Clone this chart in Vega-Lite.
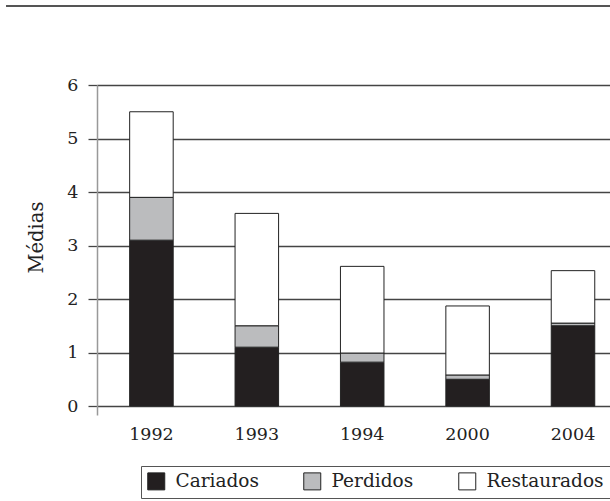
{
  "$schema": "https://vega.github.io/schema/vega-lite/v6.json",
  "background": "white",
  "padding": 5,
  "config": {
    "view": {"stroke": null},
    "font": "DejaVu Serif"
  },
  "spacing": 69,
  "vconcat": [
    {
      "width": 514,
      "height": 2,
      "data": {"values": [{"a": 0}]},
      "mark": {"type": "rule", "color": "#555555", "strokeWidth": 2},
      "encoding": {
        "x": {"datum": -0.177, "type": "quantitative", "scale": {"domain": [0, 1]}, "axis": null},
        "x2": {"datum": 1},
        "y": {"datum": 0.5, "type": "quantitative", "scale": {"domain": [0, 1]}, "axis": null}
      }
    },
    {
      "width": 514,
      "height": 330,
      "data": {
        "values": [
          {"ano": "1992", "serie": "Cariados", "media": 3.1},
          {"ano": "1992", "serie": "Perdidos", "media": 0.8},
          {"ano": "1992", "serie": "Restaurados", "media": 1.6},
          {"ano": "1993", "serie": "Cariados", "media": 1.1},
          {"ano": "1993", "serie": "Perdidos", "media": 0.4},
          {"ano": "1993", "serie": "Restaurados", "media": 2.1},
          {"ano": "1994", "serie": "Cariados", "media": 0.82},
          {"ano": "1994", "serie": "Perdidos", "media": 0.17},
          {"ano": "1994", "serie": "Restaurados", "media": 1.62},
          {"ano": "2000", "serie": "Cariados", "media": 0.5},
          {"ano": "2000", "serie": "Perdidos", "media": 0.08},
          {"ano": "2000", "serie": "Restaurados", "media": 1.29},
          {"ano": "2004", "serie": "Cariados", "media": 1.5},
          {"ano": "2004", "serie": "Perdidos", "media": 0.05},
          {"ano": "2004", "serie": "Restaurados", "media": 0.98}
        ]
      },
      "mark": {"type": "bar", "stroke": "#222222", "strokeWidth": 1},
      "encoding": {
        "x": {
          "field": "ano", "type": "nominal",
          "scale": {"paddingInner": 0.587, "paddingOuter": 0.232, "align": 0.668},
          "axis": {
            "title": null, "labelAngle": 0, "domain": false, "ticks": false,
            "labelPadding": 10, "labelFont": "DejaVu Serif", "labelFontSize": 17.5,
            "labelColor": "#222222"
          }
        },
        "y": {
          "field": "media", "type": "quantitative", "stack": "zero",
          "scale": {"domain": [-0.168, 6], "nice": false, "zero": false},
          "axis": {
            "title": "Médias", "values": [0, 1, 2, 3, 4, 5, 6],
            "titleFont": "DejaVu Serif", "titleFontSize": 19.5, "titleFontWeight": "normal",
            "titleColor": "#222222", "titlePadding": 20, "titleY": 152,
            "labelFont": "DejaVu Serif", "labelFontSize": 17.5, "labelColor": "#222222",
            "labelPadding": 10,
            "domainColor": "#999999", "domainWidth": 1.5,
            "tickColor": "#444444", "tickWidth": 1.3, "tickSize": 9,
            "grid": true, "gridColor": "#444444", "gridWidth": 1.3, "gridOpacity": 1
          }
        },
        "color": {
          "field": "serie", "type": "nominal",
          "scale": {"domain": ["Cariados", "Perdidos", "Restaurados"], "range": ["#231f20", "#bbbcbe", "#ffffff"]},
          "legend": {
            "title": null, "orient": "none", "legendX": 44, "legendY": 461, "direction": "horizontal",
            "symbolType": "square", "symbolSize": 289, "symbolStrokeColor": "#222222",
            "symbolStrokeWidth": 1, "symbolOpacity": 1,
            "labelFont": "DejaVu Serif", "labelFontSize": 18.5, "labelColor": "#222222",
            "labelOffset": 10, "columnPadding": 42,
            "strokeColor": "#555555", "padding": 6
          }
        },
        "order": {"field": "serie", "sort": "ascending"}
      }
    }
  ]
}
